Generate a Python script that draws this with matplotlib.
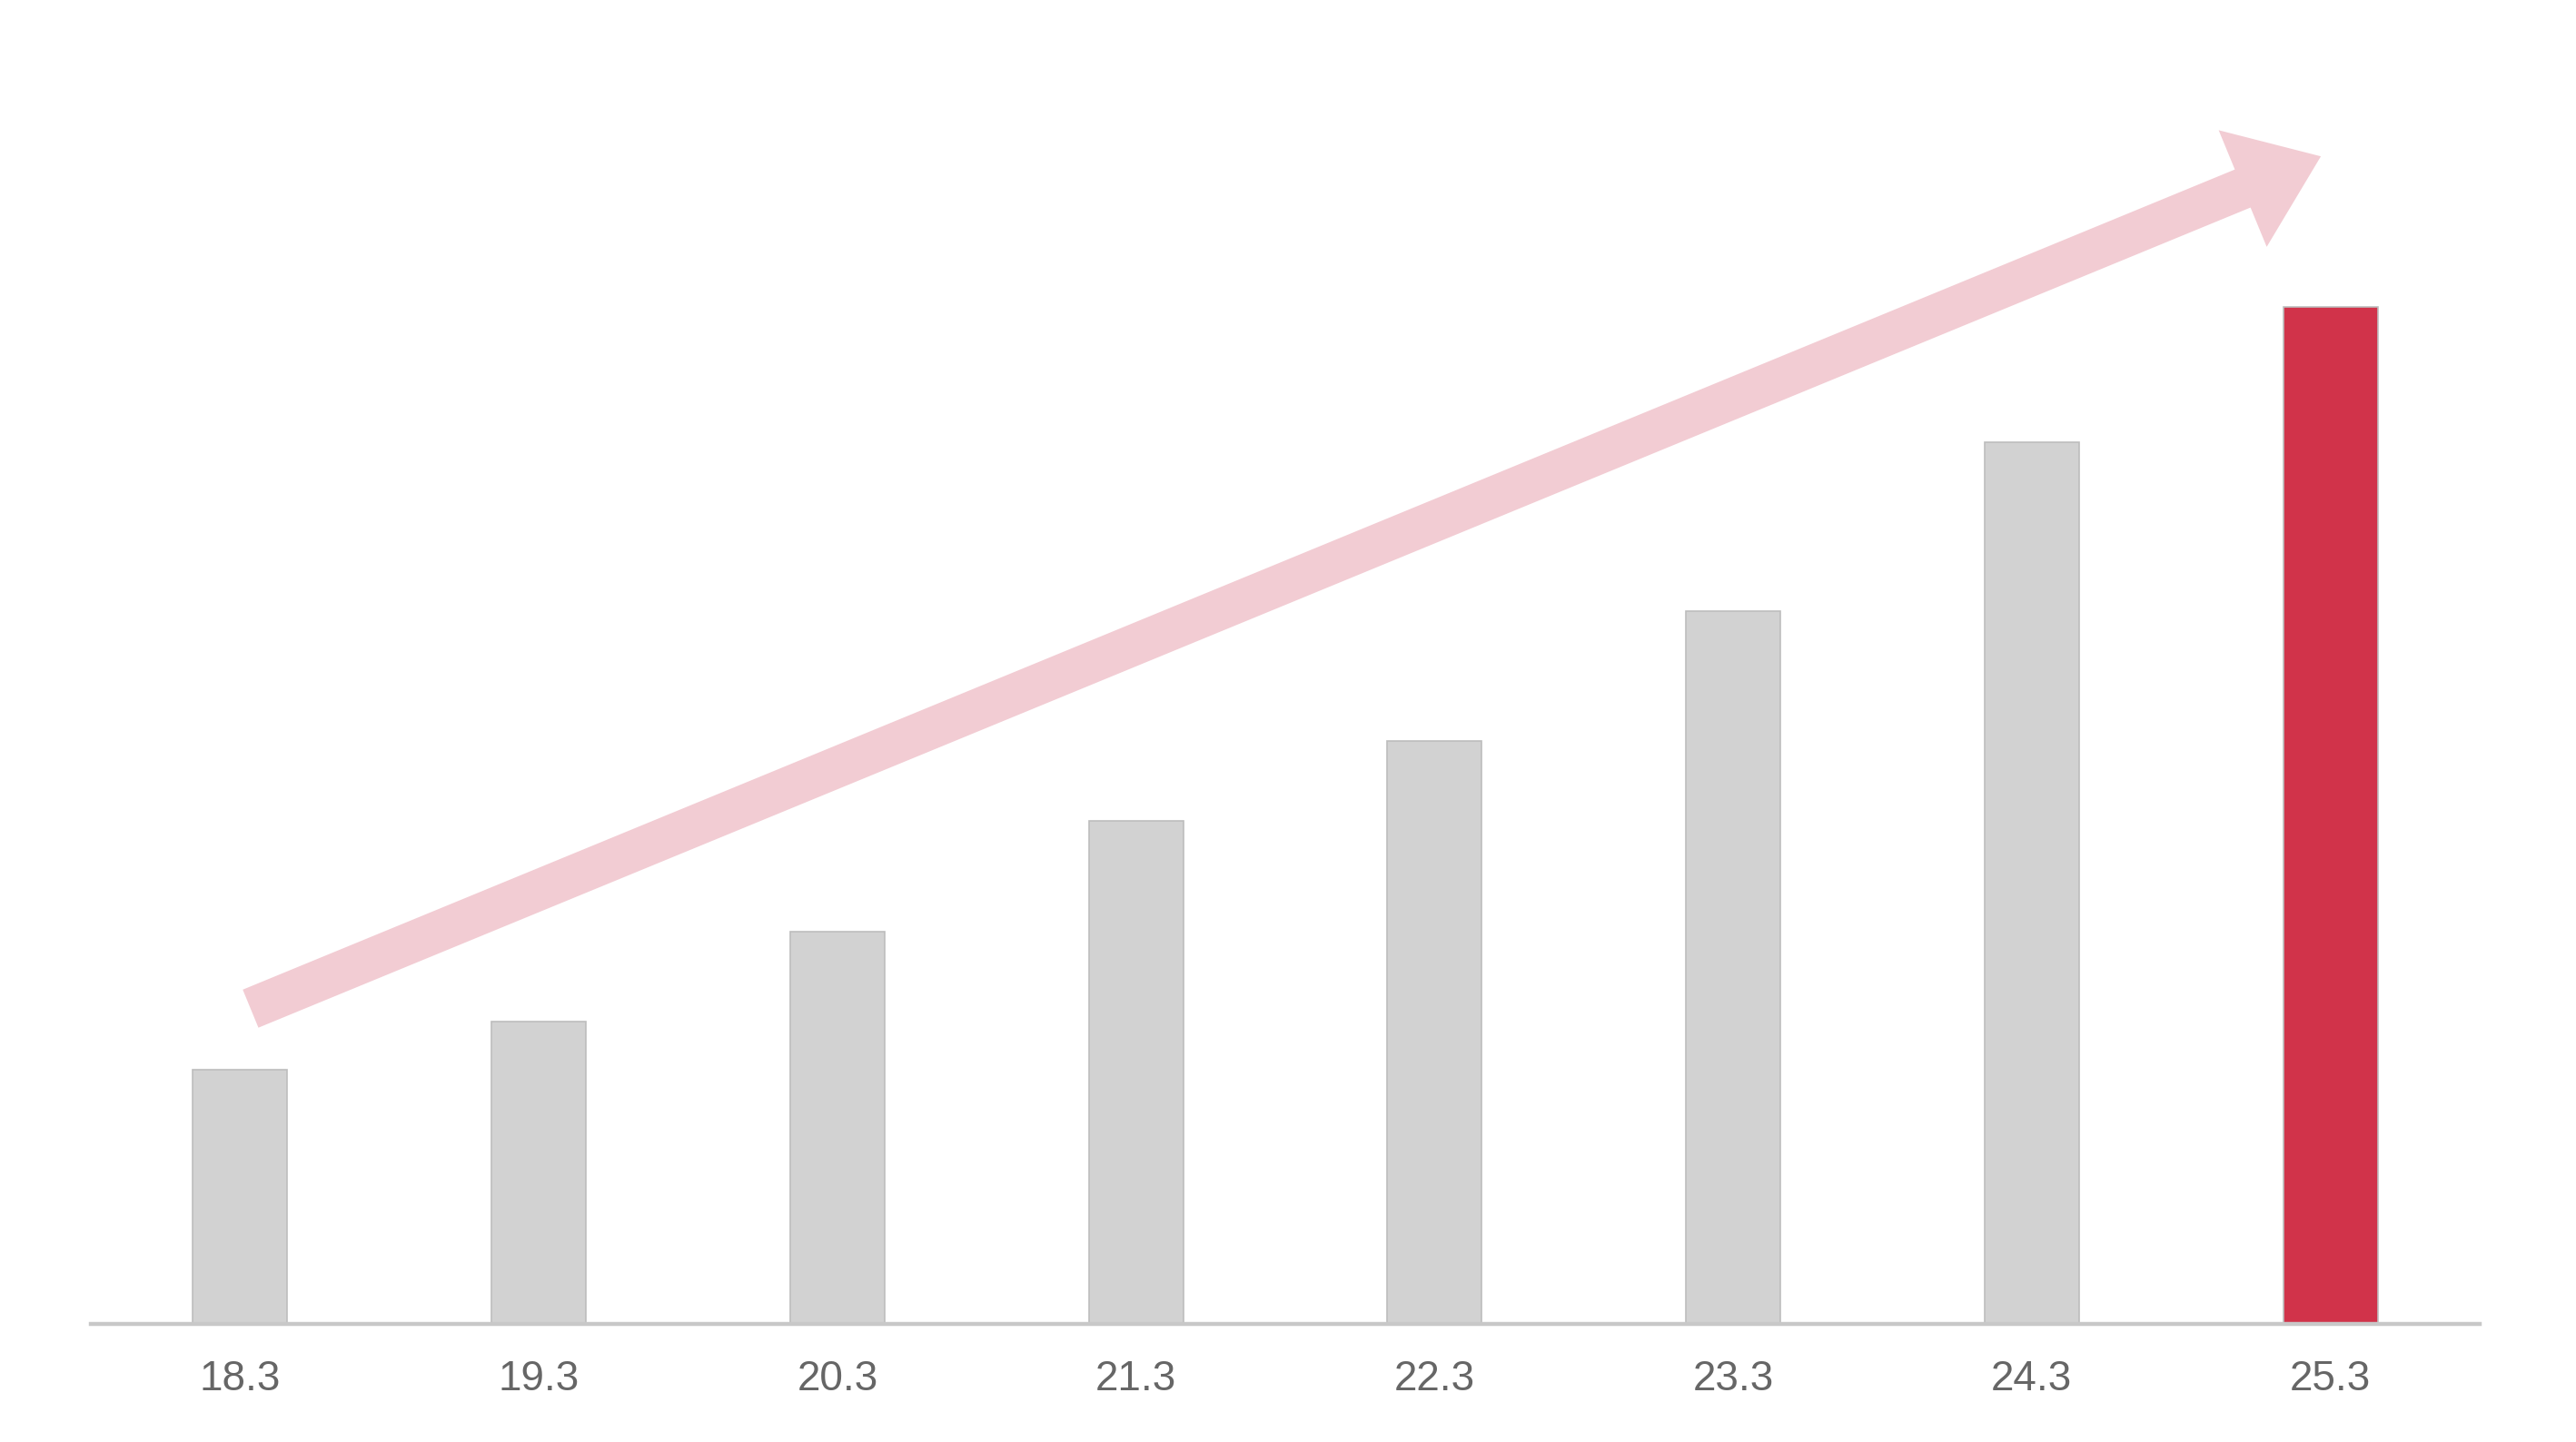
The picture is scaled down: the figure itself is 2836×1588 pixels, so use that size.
import matplotlib
matplotlib.use("Agg")
import matplotlib.pyplot as plt
from matplotlib.patches import FancyArrowPatch, ArrowStyle

categories = ["18.3", "19.3", "20.3", "21.3", "22.3", "23.3", "24.3", "25.3"]
values = [25.0, 29.7, 38.6, 49.5, 57.3, 70.1, 86.7, 100.0]
colors = ["#D2D2D2"] * 7 + ["#D1334A"]

# trend arrow endpoints (data coords)
arrow_start = (0.035, 31.0)
arrow_end = (6.968, 114.8)

plt.rcParams['font.family'] = ['Liberation Sans', 'DejaVu Sans']

fig = plt.figure(figsize=(14.18, 7.94), dpi=200)
ax = fig.add_axes([100/2836, 130/1588, 2630/2836, (1458-40)/1588])

x = list(range(len(categories)))
ax.bar(x, values, width=0.316, color=colors, edgecolor="#BDBDBD", linewidth=0.6, zorder=2)

ax.set_xlim(-0.5, len(categories) - 0.5)
ax.set_ylim(0, 126.6)
ax.set_xticks(x)
ax.set_xticklabels(categories, fontsize=16.5, color="#666666")
ax.tick_params(axis='x', length=0, pad=14)
ax.set_yticks([])
for s in ["top", "left", "right"]:
    ax.spines[s].set_visible(False)
ax.spines["bottom"].set_color("#C8C8C8")
ax.spines["bottom"].set_linewidth(1.6)
ax.spines["bottom"].set_zorder(3)

style = ArrowStyle.Simple(head_length=33.5, head_width=50, tail_width=16.3)
arrow = FancyArrowPatch(arrow_start, arrow_end, arrowstyle=style, mutation_scale=1,
                        color="#F2CCD3", linewidth=0, shrinkA=0, shrinkB=0, zorder=1)
ax.add_patch(arrow)

fig.savefig("out.png", dpi=200, facecolor="white")
